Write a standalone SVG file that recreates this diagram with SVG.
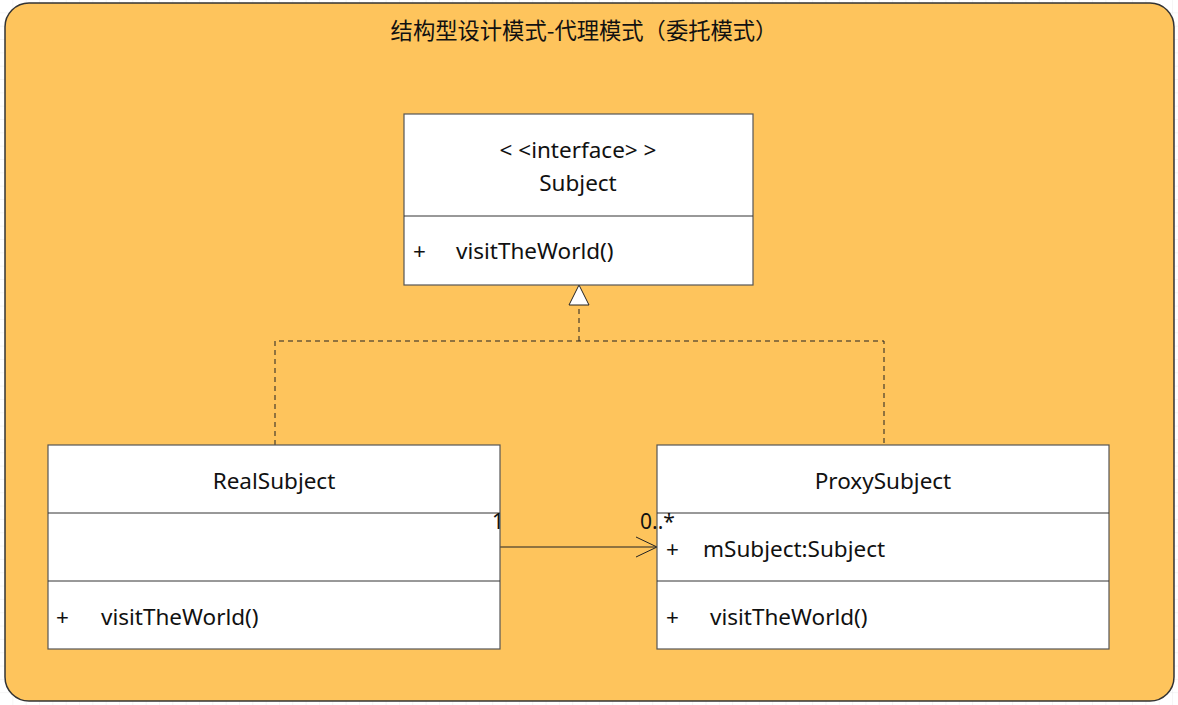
<svg xmlns="http://www.w3.org/2000/svg" width="1178" height="705" viewBox="0 0 1178 705">
<defs>
<pattern id="grid" width="13.33" height="13.33" patternUnits="userSpaceOnUse">
<path d="M13.33 0V13.33H0" fill="none" stroke="#ececec" stroke-width="1"/>
</pattern>
<marker id="tri" markerWidth="24" markerHeight="24" refX="21" refY="11" orient="auto" markerUnits="userSpaceOnUse">
<path d="M1 1 L21 11 L1 21 Z" fill="#ffffff" stroke="#222" stroke-width="1"/>
</marker>
<marker id="open" markerWidth="24" markerHeight="24" refX="22" refY="11" orient="auto" markerUnits="userSpaceOnUse">
<path d="M1 1 L22 11 L1 21" fill="none" stroke="#222" stroke-width="1"/>
</marker>
</defs>
<style>
.box{fill:#ffffff;stroke:#555;stroke-width:1.2}
.div{stroke:#333;stroke-width:1}
.t{font-family:"Noto Sans","Open Sans","Noto Sans CJK SC",sans-serif;font-size:22.5px;fill:#111}
.c{text-anchor:middle}
.dash{fill:none;stroke:#222;stroke-width:1;stroke-dasharray:5,4}
.line{fill:none;stroke:#222;stroke-width:1}
</style>
<rect width="1178" height="705" fill="#ffffff"/>
<rect width="1178" height="705" fill="url(#grid)"/>
<g id="frame">
<rect x="5" y="3" width="1169" height="698" rx="24" ry="24" fill="#FEC45C" stroke="#333" stroke-width="1.5"/>
<text class="t c" x="584" y="39" style="font-family:'Noto Sans CJK SC',sans-serif;font-size:22.3px">结构型设计模式-代理模式（委托模式）</text>
</g>
<g id="connectors">
<path class="dash" d="M275 445 V341 H884 V445"/>
<path class="dash" d="M579 341 V285" marker-end="url(#tri)"/>
<path class="line" d="M500 547 H657" marker-end="url(#open)"/>
</g>
<g id="Subject">
<rect class="box" x="404" y="114" width="349" height="171"/>
<line class="div" x1="404" y1="216" x2="753" y2="216"/>
<text class="t c" x="578" y="158">&lt; &lt;interface&gt; &gt;</text>
<text class="t c" x="578" y="191">Subject</text>
<text class="t" x="413" y="259">+</text>
<text class="t" x="456" y="259">visitTheWorld()</text>
</g>
<g id="RealSubject">
<rect class="box" x="48" y="445" width="452" height="204"/>
<line class="div" x1="48" y1="513" x2="500" y2="513"/>
<line class="div" x1="48" y1="581" x2="500" y2="581"/>
<text class="t c" x="274" y="489">RealSubject</text>
<text class="t" x="56" y="625">+</text>
<text class="t" x="101" y="625">visitTheWorld()</text>
</g>
<g id="ProxySubject">
<rect class="box" x="657" y="445" width="452" height="204"/>
<line class="div" x1="657" y1="513" x2="1109" y2="513"/>
<line class="div" x1="657" y1="581" x2="1109" y2="581"/>
<text class="t c" x="883" y="489">ProxySubject</text>
<text class="t" x="666" y="557">+</text>
<text class="t" x="703" y="557">mSubject:Subject</text>
<text class="t" x="666" y="625">+</text>
<text class="t" x="710" y="625">visitTheWorld()</text>
</g>
<g id="labels">
<text class="t" x="492" y="529" style="font-size:21px">1</text>
<text class="t" x="640" y="529" style="font-size:21px">0..*</text>
</g>
</svg>
